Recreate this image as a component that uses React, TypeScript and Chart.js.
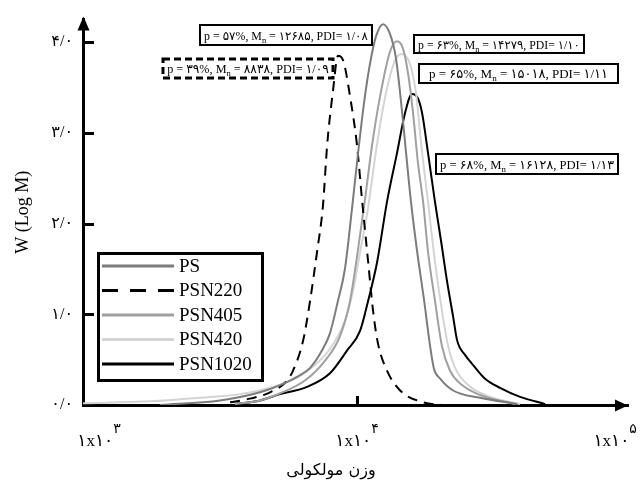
import React, { useEffect, useRef } from 'react';
import { Chart, registerables } from 'chart.js';

Chart.register(...registerables);

// ---- data (x = log10 of molecular weight, y = W(log M)) ----
const seriesNames = ['PS', 'PSN220', 'PSN405', 'PSN420', 'PSN1020'];

const psLogM = [3.236, 3.469, 3.624, 3.702, 3.767, 3.818, 3.864, 3.895, 3.926, 3.953, 3.981, 4.004, 4.027, 4.05, 4.074, 4.101, 4.128, 4.151, 4.171, 4.19, 4.209, 4.233, 4.26, 4.283, 4.298, 4.322, 4.372, 4.477, 4.62];
const psW = [0.0, 0.05, 0.14, 0.22, 0.31, 0.41, 0.6, 0.79, 1.15, 1.5, 2.18, 2.78, 3.33, 3.76, 4.07, 4.2, 4.09, 3.82, 3.33, 2.78, 2.24, 1.69, 1.15, 0.65, 0.4, 0.29, 0.16, 0.08, 0.01];

const psn220LogM = [3.508, 3.585, 3.663, 3.729, 3.752, 3.791, 3.818, 3.845, 3.868, 3.884, 3.907, 3.926, 3.946, 3.973, 4.0, 4.019, 4.043, 4.062, 4.081, 4.116, 4.167, 4.256, 4.333];
const psn220W = [0.03, 0.07, 0.14, 0.27, 0.38, 0.71, 1.15, 1.69, 2.2, 2.86, 3.47, 3.85, 3.8, 3.4, 2.86, 2.27, 1.58, 1.04, 0.68, 0.38, 0.16, 0.03, 0.0];

const psn405LogM = [3.527, 3.624, 3.702, 3.798, 3.876, 3.934, 3.973, 4.0, 4.031, 4.058, 4.089, 4.128, 4.155, 4.178, 4.198, 4.217, 4.236, 4.256, 4.275, 4.302, 4.329, 4.36, 4.407, 4.477, 4.612];
const psn405W = [0.01, 0.05, 0.13, 0.27, 0.49, 0.76, 1.15, 1.64, 2.27, 2.86, 3.4, 3.9, 4.01, 3.93, 3.65, 3.22, 2.67, 2.24, 1.69, 1.15, 0.65, 0.38, 0.22, 0.11, 0.01];

const psn420LogM = [2.938, 3.198, 3.391, 3.547, 3.663, 3.76, 3.837, 3.903, 3.953, 3.984, 4.012, 4.043, 4.07, 4.097, 4.128, 4.151, 4.174, 4.205, 4.229, 4.248, 4.275, 4.302, 4.329, 4.353, 4.38, 4.43, 4.516, 4.632];
const psn420W = [0.02, 0.04, 0.08, 0.12, 0.19, 0.29, 0.44, 0.65, 0.93, 1.25, 1.69, 2.18, 2.73, 3.22, 3.63, 3.82, 3.87, 3.76, 3.43, 2.89, 2.24, 1.58, 1.04, 0.65, 0.41, 0.22, 0.09, 0.01];

const psn1020LogM = [3.527, 3.624, 3.702, 3.806, 3.895, 3.961, 4.012, 4.043, 4.078, 4.116, 4.155, 4.186, 4.213, 4.236, 4.252, 4.275, 4.302, 4.326, 4.349, 4.372, 4.388, 4.419, 4.45, 4.496, 4.554, 4.632, 4.729];
const psn1020W = [0.01, 0.05, 0.12, 0.2, 0.35, 0.6, 0.82, 1.15, 1.58, 2.24, 2.78, 3.22, 3.43, 3.38, 3.22, 2.78, 2.24, 1.8, 1.36, 0.98, 0.71, 0.55, 0.44, 0.29, 0.19, 0.09, 0.01];

const yTicks = [0, 1, 2, 3, 4];
const yTickLabels = ['۰/۰', '۱/۰', '۲/۰', '۳/۰', '۴/۰'];
const xTicks = [3, 4, 5];
const xTickBase = '۱x۱۰';
const xTickExps = ['۳', '۴', '۵'];
const xTitle = 'وزن مولکولی';
const yTitle = 'W (Log M)';

const annoP = ['۵۷', '۳۹', '۶۳', '۶۵', '۶۸'];
const annoMn = ['۱۲۶۸۵', '۸۸۳۸', '۱۴۲۷۹', '۱۵۰۱۸', '۱۶۱۲۸'];
const annoPdi = ['۱/۰۸', '۱/۰۹', '۱/۱۰', '۱/۱۱', '۱/۱۳'];

// ---- styling / layout ----
const X_MIN = 2.938;
const X_MAX = 5.05;
const Y_MAX = 4.25;
const SERIF = "'Liberation Serif', 'Times New Roman', 'DejaVu Sans', serif";
const lineColors = ['#7c7c7c', '#000000', '#a0a0a0', '#d4d4d4', '#000000'];
const lineDashes: number[][] = [[], [10, 7], [], [], []];

const annoBoxes = [
  { x: 200, y: 25, w: 172, h: 20, dashed: false },
  { x: 163, y: 59, w: 170, h: 19, dashed: true },
  { x: 414, y: 35, w: 170, h: 18, dashed: false },
  { x: 419, y: 64, w: 199, h: 19, dashed: false },
  { x: 436, y: 154, w: 182, h: 20, dashed: false },
];

const legendBox = { x: 98, y: 253, w: 164, h: 127 };

const decor = {
  id: 'decor',
  afterDraw(chart: any) {
    const { ctx, chartArea, scales } = chart;
    const xs = scales.x;
    const ys = scales.y;
    const x0 = chartArea.left;
    const y0 = chartArea.bottom;
    ctx.save();
    ctx.setLineDash([]);
    ctx.fillStyle = '#000';
    ctx.strokeStyle = '#000';

    // axis arrows
    ctx.beginPath();
    ctx.moveTo(x0 + 0.5, chartArea.top - 3);
    ctx.lineTo(x0 - 5.5, chartArea.top + 11);
    ctx.lineTo(x0 + 6.5, chartArea.top + 11);
    ctx.closePath();
    ctx.fill();
    ctx.beginPath();
    ctx.moveTo(chartArea.right, y0 + 0.5);
    ctx.lineTo(chartArea.right - 13, y0 - 5.5);
    ctx.lineTo(chartArea.right - 13, y0 + 6.5);
    ctx.closePath();
    ctx.fill();

    // inside tick marks
    ctx.lineWidth = 3;
    yTicks.forEach((v) => {
      if (v === 0) return;
      const py = Math.round(ys.getPixelForValue(v)) + 0.5;
      ctx.beginPath();
      ctx.moveTo(x0, py);
      ctx.lineTo(x0 + 11, py);
      ctx.stroke();
    });
    const tx = Math.round(xs.getPixelForValue(4)) + 0.5;
    ctx.beginPath();
    ctx.moveTo(tx, y0);
    ctx.lineTo(tx, y0 - 9);
    ctx.stroke();

    // x tick labels with superscript exponent
    xTicks.forEach((v, i) => {
      const cx = xs.getPixelForValue(v);
      ctx.font = `17px ${SERIF}`;
      const wb = ctx.measureText(xTickBase).width;
      ctx.font = `14px ${SERIF}`;
      const we = ctx.measureText(xTickExps[i]).width;
      const start = cx - (wb + we) / 2;
      ctx.textAlign = 'left';
      ctx.textBaseline = 'alphabetic';
      ctx.font = `17px ${SERIF}`;
      ctx.fillText(xTickBase, start, 446);
      ctx.font = `14px ${SERIF}`;
      ctx.fillText(xTickExps[i], start + wb, 433);
    });

    // x axis title
    ctx.font = `16px 'DejaVu Sans', sans-serif`;
    ctx.textAlign = 'center';
    ctx.fillText(xTitle, 331, 475);

    // annotation boxes
    annoBoxes.forEach((b, i) => {
      ctx.fillStyle = '#fff';
      ctx.fillRect(b.x, b.y, b.w, b.h);
      ctx.strokeStyle = '#000';
      ctx.lineWidth = b.dashed ? 3 : 2;
      ctx.setLineDash(b.dashed ? [7, 4] : []);
      ctx.strokeRect(b.x, b.y, b.w, b.h);
      ctx.setLineDash([]);
      ctx.fillStyle = '#000';
      const p1 = `p = ${annoP[i]}%, M`;
      const p2 = 'n';
      const p3 = ` = ${annoMn[i]}, PDI= ${annoPdi[i]}`;
      const measure = (fs: number) => {
        ctx.font = `${fs}px ${SERIF}`;
        const a = ctx.measureText(p1).width;
        const c = ctx.measureText(p3).width;
        ctx.font = `${fs * 0.7}px ${SERIF}`;
        const bb = ctx.measureText(p2).width;
        return [a, bb, c];
      };
      let fs = 13;
      let [w1, w2, w3] = measure(fs);
      const avail = b.w - 8;
      if (w1 + w2 + w3 > avail) {
        fs = (fs * avail) / (w1 + w2 + w3);
        [w1, w2, w3] = measure(fs);
      }
      let sx = b.x + (b.w - (w1 + w2 + w3)) / 2;
      const base = b.y + b.h / 2 + 4.5;
      ctx.textAlign = 'left';
      ctx.textBaseline = 'alphabetic';
      ctx.font = `${fs}px ${SERIF}`;
      ctx.fillText(p1, sx, base);
      sx += w1;
      ctx.font = `${fs * 0.7}px ${SERIF}`;
      ctx.fillText(p2, sx, base + 3);
      sx += w2;
      ctx.font = `${fs}px ${SERIF}`;
      ctx.fillText(p3, sx, base);
    });

    // legend
    const L = legendBox;
    ctx.fillStyle = '#fff';
    ctx.fillRect(L.x, L.y, L.w, L.h);
    ctx.lineWidth = 3;
    ctx.strokeStyle = '#000';
    ctx.strokeRect(L.x + 0.5, L.y + 0.5, L.w, L.h);
    seriesNames.forEach((name, i) => {
      const ry = L.y + 13 + i * 24.5;
      ctx.strokeStyle = lineColors[i];
      ctx.lineWidth = 3;
      ctx.setLineDash(lineDashes[i].length ? [16, 12] : []);
      ctx.beginPath();
      ctx.moveTo(L.x + 4, ry);
      ctx.lineTo(L.x + 76, ry);
      ctx.stroke();
      ctx.setLineDash([]);
      ctx.fillStyle = '#000';
      ctx.font = `19px ${SERIF}`;
      ctx.textAlign = 'left';
      ctx.textBaseline = 'middle';
      ctx.fillText(name, L.x + 81, ry + 1);
    });
    ctx.restore();
  },
};

export default function App() {
  const ref = useRef<HTMLCanvasElement>(null);
  useEffect(() => {
    const canvas = ref.current;
    if (!canvas) return;
    const pts = (xs: number[], ys: number[]) => xs.map((x, i) => ({ x, y: ys[i] }));
    const sets = [
      pts(psLogM, psW),
      pts(psn220LogM, psn220W),
      pts(psn405LogM, psn405W),
      pts(psn420LogM, psn420W),
      pts(psn1020LogM, psn1020W),
    ];
    const chart = new Chart(canvas, {
      type: 'line',
      data: {
        datasets: sets.map((data, i) => ({
          label: seriesNames[i],
          data,
          borderColor: lineColors[i],
          borderDash: lineDashes[i],
          borderWidth: 2,
          pointRadius: 0,
          fill: false,
          cubicInterpolationMode: 'monotone' as const,
        })),
      },
      options: {
        responsive: false,
        animation: false,
        devicePixelRatio: 1,
        layout: { padding: { top: 15, right: 12, left: 0, bottom: 0 } },
        plugins: { legend: { display: false }, tooltip: { enabled: false } },
        scales: {
          x: {
            type: 'linear',
            min: X_MIN,
            max: X_MAX,
            ticks: { display: false },
            grid: { display: false, drawTicks: false },
            border: { display: true, color: '#000', width: 3 },
            afterFit: (s: any) => {
              s.height = 79;
            },
          },
          y: {
            type: 'linear',
            min: 0,
            max: Y_MAX,
            afterBuildTicks: (s: any) => {
              s.ticks = yTicks.map((v) => ({ value: v }));
            },
            ticks: {
              callback: (v: any) => yTickLabels[yTicks.indexOf(Number(v))] ?? '',
              color: '#000',
              font: { family: SERIF, size: 16 },
              padding: 10,
            },
            grid: { display: false, drawTicks: false },
            border: { display: true, color: '#000', width: 3 },
            title: {
              display: true,
              text: yTitle,
              color: '#000',
              font: { family: SERIF, size: 18 },
              padding: { top: 12, bottom: 0 },
            },
            afterFit: (s: any) => {
              s.width = 83;
            },
          },
        },
      },
      plugins: [decor],
    });
    return () => chart.destroy();
  }, []);
  return (
    <div style={{ position: 'absolute', left: 0, top: 0, width: 640, height: 484, background: '#fff' }}>
      <canvas ref={ref} width={640} height={484} style={{ display: 'block', width: 640, height: 484 }} />
    </div>
  );
}
